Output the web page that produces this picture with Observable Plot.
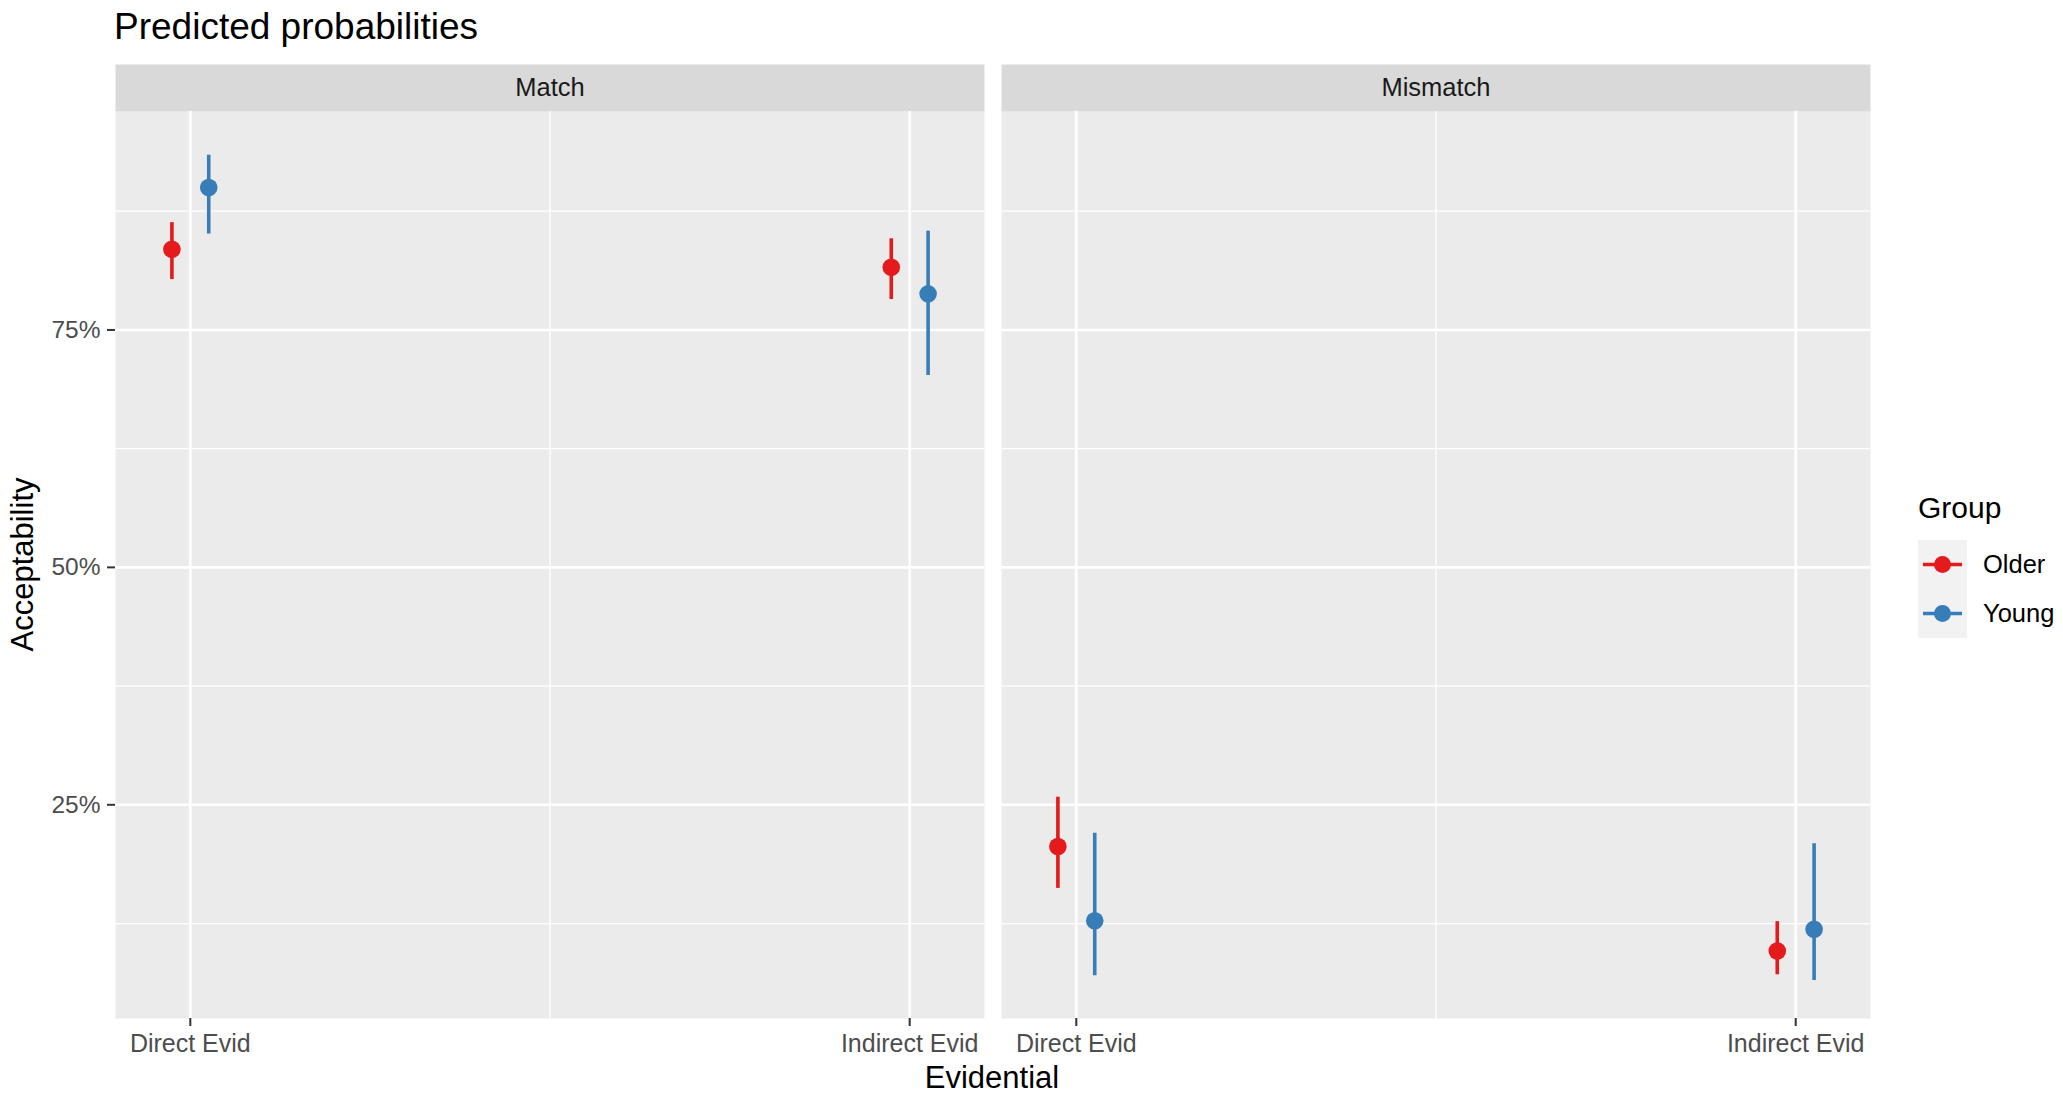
<!DOCTYPE html>
<html><head><meta charset="utf-8">
<script src="https://cdn.jsdelivr.net/npm/d3@7"></script>
<script src="https://cdn.jsdelivr.net/npm/@observablehq/plot@0.6"></script>
<style>
body{margin:0;background:#fff;font-family:"Liberation Sans",Arial,sans-serif;}
#wrap{position:relative;width:2063px;height:1105px;}
#wrap svg{position:absolute;left:0;top:0;}
</style></head><body><div id="wrap"></div>
<script>
// ---- data ----
const panels = ["Match", "Mismatch"];
const evidentials = ["Direct Evid", "Indirect Evid"];
const groups = ["Older", "Young"];
const groupColors = ["#E41A1C", "#377EB8"];
// order: Match/Direct, Match/Indirect, Mismatch/Direct, Mismatch/Indirect
const olderEstimate = [0.835, 0.816, 0.206, 0.096];
const olderLower    = [0.803, 0.782, 0.162, 0.071];
const olderUpper    = [0.863, 0.846, 0.258, 0.127];
const youngEstimate = [0.900, 0.788, 0.128, 0.119];
const youngLower    = [0.851, 0.702, 0.070, 0.065];
const youngUpper    = [0.934, 0.854, 0.220, 0.209];
const yTicks = [0.25, 0.5, 0.75];
const yMinorTicks = [0.125, 0.375, 0.625, 0.875];
const yTickLabels = ["25%", "50%", "75%"];

// ---- build table ----
const dodge = 0.0256;
const rows = [];
const series = {
  Older: [olderEstimate, olderLower, olderUpper],
  Young: [youngEstimate, youngLower, youngUpper]
};
panels.forEach((p, i) => {
  evidentials.forEach((e, j) => {
    groups.forEach((g, k) => {
      const idx = i * evidentials.length + j;
      const [est, lo, hi] = series[g];
      rows.push({panel: p, evidential: e, group: g,
        x: (j + 1) + (k === 0 ? -dodge : dodge),
        est: est[idx], lo: lo[idx], hi: hi[idx]});
    });
  });
});

const W = 2063, H = 1105;
const mL = 114, mR = 193, mT = 111, mB = 87;
const panelH = H - mT - mB;
const stripH = 47;
const font = "Liberation Sans, Arial, sans-serif";

const plot = Plot.plot({
  width: W, height: H,
  marginLeft: mL, marginRight: mR, marginTop: mT, marginBottom: mB,
  style: {fontFamily: font, background: "transparent", overflow: "visible"},
  fx: {domain: panels, padding: 0.0192, axis: null, label: null},
  x: {domain: [1 - 0.104, 2 + 0.104], label: null},
  y: {domain: [0.025, 0.980], label: null},
  color: {domain: groups, range: groupColors},
  marks: [
    Plot.frame({fill: "#EBEBEB", stroke: null}),
    Plot.frame({fill: "#D9D9D9", stroke: null, insetBottom: panelH - stripH, dy: -stripH}),
    Plot.text(panels, {fx: d => d, text: d => d, frameAnchor: "top", dy: -stripH / 2,
      lineAnchor: "middle", fontSize: 25.5, fill: "#1A1A1A"}),
    Plot.gridY(yMinorTicks, {stroke: "#FFFFFF", strokeOpacity: 1, strokeWidth: 1.3}),
    Plot.gridX([1.5], {stroke: "#FFFFFF", strokeOpacity: 1, strokeWidth: 1.3}),
    Plot.gridY(yTicks, {stroke: "#FFFFFF", strokeOpacity: 1, strokeWidth: 2.6}),
    Plot.gridX([1, 2], {stroke: "#FFFFFF", strokeOpacity: 1, strokeWidth: 2.6}),
    Plot.ruleX(rows, {fx: "panel", x: "x", y1: "lo", y2: "hi", stroke: "group", strokeWidth: 3.6}),
    Plot.dot(rows, {fx: "panel", x: "x", y: "est", fill: "group", r: 8.8, stroke: null}),
    Plot.axisY({ticks: yTicks, tickFormat: d => yTickLabels[yTicks.indexOf(d)],
      tickSize: 8, tickPadding: 7, fontSize: 24.5, stroke: "#333333", fill: "#4D4D4D", strokeWidth: 2, label: null}),
    Plot.axisX({ticks: [1, 2], tickFormat: d => evidentials[d - 1],
      tickSize: 8, tickPadding: 8, fontSize: 25, stroke: "#333333", fill: "#4D4D4D", strokeWidth: 2, label: null})
  ]
});
document.getElementById("wrap").appendChild(plot);

// ---- overlay: titles + legend ----
const svg = d3.select("#wrap").append("svg")
  .attr("width", W).attr("height", H)
  .style("font-family", font).style("pointer-events", "none");

svg.append("text").attr("x", 114).attr("y", 39).attr("font-size", 37)
  .attr("fill", "#000").text("Predicted probabilities");
svg.append("text").attr("x", (mL + (W - mR)) / 2).attr("y", 1088).attr("font-size", 31)
  .attr("text-anchor", "middle").attr("fill", "#000").text("Evidential");
svg.append("text").attr("transform", `translate(33,${mT + panelH / 2}) rotate(-90)`)
  .attr("font-size", 31).attr("text-anchor", "middle").attr("fill", "#000").text("Acceptability");

const lg = svg.append("g").attr("transform", "translate(1918,0)");
lg.append("text").attr("x", 0).attr("y", 518).attr("font-size", 30).attr("fill", "#000").text("Group");
const keyTop = 540, keyH = 49, keyW = 49;
groups.forEach((g, i) => {
  const cy = keyTop + keyH * i + keyH / 2;
  lg.append("rect").attr("x", 0).attr("y", keyTop + keyH * i).attr("width", keyW).attr("height", keyH).attr("fill", "#F2F2F2");
  lg.append("line").attr("x1", 5).attr("x2", 44).attr("y1", cy).attr("y2", cy)
    .attr("stroke", groupColors[i]).attr("stroke-width", 3.6);
  lg.append("circle").attr("cx", keyW / 2).attr("cy", cy).attr("r", 8.5).attr("fill", groupColors[i]);
  lg.append("text").attr("x", 65).attr("y", cy).attr("dy", "0.35em").attr("font-size", 25.5)
    .attr("fill", "#000").text(g);
});
</script></body></html>
